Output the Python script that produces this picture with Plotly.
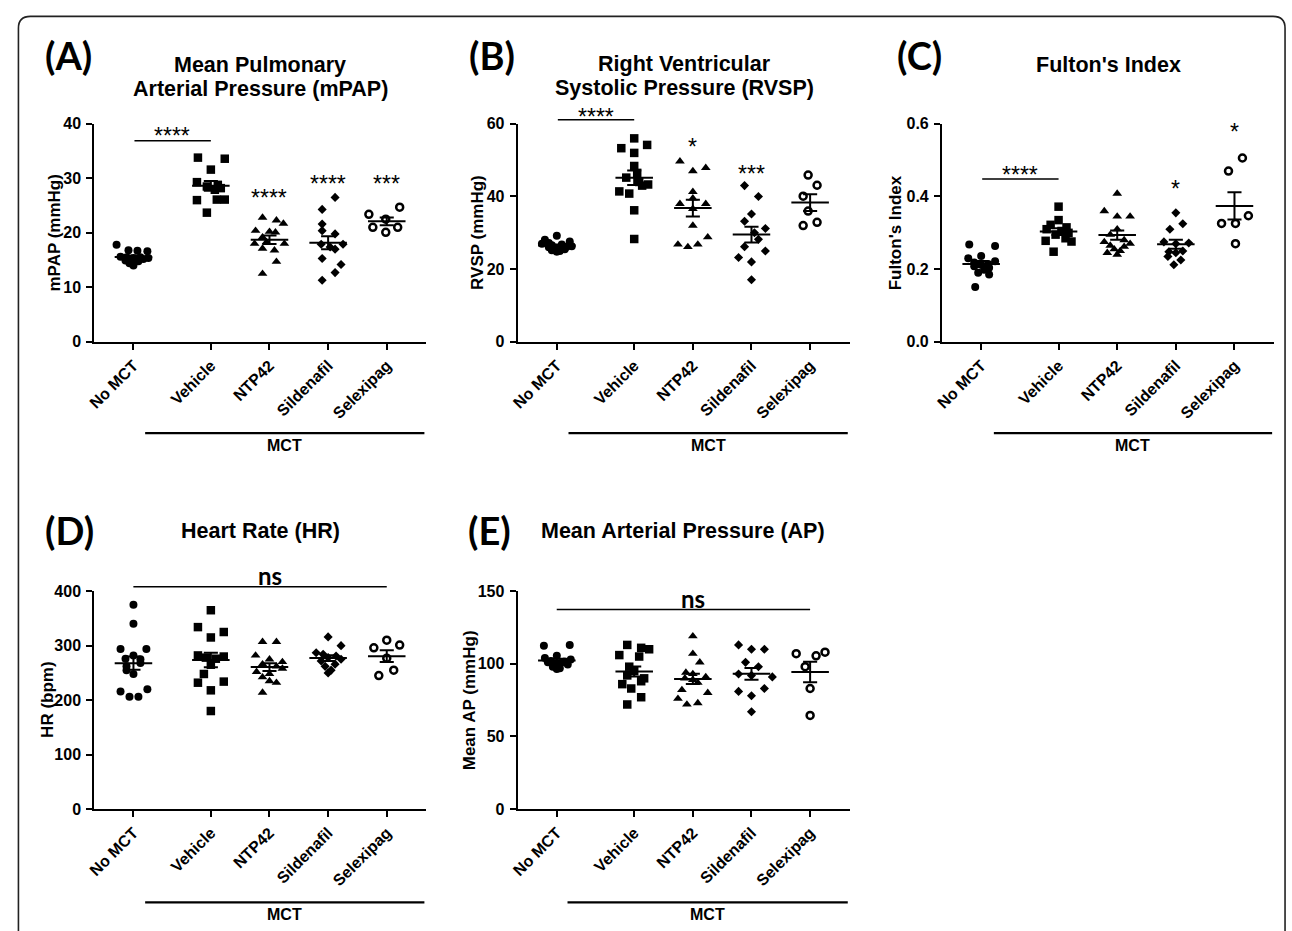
import numpy as np
import plotly.graph_objects as go

W, H = 1292, 931

categories = ["No MCT", "Vehicle", "NTP42", "Sildenafil", "Selexipag"]

# ---------------- data ----------------
# (A) mean pulmonary arterial pressure, mmHg
mpap_values = [
    [17.8, 16.8, 16.7, 16.6, 15.6, 15.5, 15.4, 15.5, 15.4, 14.9, 14.7, 14.8, 14.0, 14.4, 15.2],
    [33.8, 33.6, 31.6, 29.3, 28.8, 28.5, 27.9, 26.1, 26.0, 26.1, 23.7, 28.2],
    [22.8, 22.3, 21.7, 20.4, 20.2, 20.1, 19.2, 18.0, 18.3, 18.0, 17.1, 16.8, 14.7, 12.5],
    [26.5, 24.3, 21.6, 20.4, 19.8, 17.9, 17.9, 17.4, 17.0, 15.3, 14.2, 12.7, 11.3],
    [23.4, 22.5, 24.7, 21.0, 20.1, 21.0],
]
# (B) right ventricular systolic pressure, mmHg
rvsp_values = [
    [29.2, 28.1, 27.6, 27.0, 26.8, 26.6, 26.3, 26.0, 25.7, 25.5, 25.2, 25.0, 24.8, 26.2, 27.2],
    [56.0, 54.2, 53.3, 52.0, 48.4, 46.5, 45.2, 44.0, 43.3, 43.0, 41.4, 40.8, 36.2, 28.3],
    [49.7, 47.9, 47.0, 41.3, 39.5, 38.0, 38.0, 36.6, 32.0, 28.8, 26.8, 26.8, 26.1],
    [43.0, 40.0, 35.2, 33.2, 31.2, 30.0, 28.2, 26.2, 25.0, 23.2, 22.0, 17.1],
    [45.9, 43.1, 40.1, 36.0, 32.0, 32.9],
]
# (C) Fulton's index
fulton_values = [
    [0.268, 0.264, 0.236, 0.230, 0.222, 0.218, 0.214, 0.212, 0.208, 0.204, 0.198, 0.190, 0.185, 0.151],
    [0.372, 0.335, 0.322, 0.315, 0.310, 0.305, 0.300, 0.295, 0.285, 0.278, 0.276, 0.248],
    [0.408, 0.360, 0.345, 0.345, 0.310, 0.295, 0.280, 0.275, 0.270, 0.265, 0.262, 0.255, 0.250, 0.245, 0.240],
    [0.355, 0.325, 0.310, 0.275, 0.272, 0.270, 0.250, 0.248, 0.245, 0.235, 0.225, 0.212],
    [0.506, 0.470, 0.347, 0.326, 0.326, 0.270],
]
# (D) heart rate, bpm
hr_values = [
    [375, 340, 294, 294, 282, 276, 275, 268, 262, 255, 248, 220, 216, 206, 206],
    [365, 334, 325, 315, 282, 280, 278, 276, 265, 248, 232, 234, 218, 180],
    [307, 307, 282, 275, 270, 266, 262, 258, 252, 248, 242, 235, 232, 214],
    [316, 300, 287, 284, 281, 278, 275, 272, 266, 262, 255, 250],
    [310, 301, 296, 277, 255, 245],
]
# (E) mean arterial pressure, mmHg
ap_values = [
    [112.5, 113, 105.5, 104, 103, 102, 101.5, 101, 100.5, 100, 99.5, 99, 98, 97, 96.5],
    [113, 111, 110, 106, 105, 98, 95, 92, 90, 88, 86, 83, 77, 72],
    [119, 107, 101, 94, 93, 91, 90, 89, 87, 82, 80, 76, 73, 72],
    [113, 110, 110, 101, 98, 93, 92, 91, 83, 81, 78, 67],
    [107, 105.5, 108, 98, 83, 64.5],
]

# horizontal scatter of each dot (pixels)
mpap_spread = [
    [-17, -5, 4, 14, -13, -7, 0, 7, 15, -8, -2, 5, 0, -4, 10],
    [-13, 14, 0, -14, 7, -4, 4, 14, -14, 6, -4, 10],
    [-7, 7, 14, -14, 0, 6, -7, -15, -3, 15, -7, 5, 7, -7],
    [7, -6, -6, -6, 7, -7, 15, 2, 7, -6, 13, 7, -6],
    [-18, -1, 13, -14, -1, 11],
]
rvsp_spread = [
    [0, -12, 13, -15, 5, -5, 15, -8, -2, 8, -5, 3, 0, 10, -8],
    [0, 13, -13, 0, 0, 3, -8, 5, 14, 8, -15, -5, 0, 0],
    [-13, 13, 0, 0, 0, -13, 13, 0, 0, 15, -15, 5, -5],
    [-7, 7, 0, -7, 14, 3, 7, -7, 14, -13, 0, 0],
    [-2, 7, -7, -2, -7, 7],
]
fulton_spread = [
    [-12, 14, 0, -13, 14, -7, 7, 0, -7, 8, 3, -3, 8, -6],
    [0, 0, -8, 8, -12, 3, 10, -3, 7, -13, 13, -5],
    [0, -13, 0, 13, 0, -7, 7, -13, 13, -7, 7, -3, 3, -10, 0],
    [0, 7, -6, -12, 13, 0, 7, -7, 0, -8, 5, -2],
    [8, -6, 14, -13, 1, 1],
]
hr_spread = [
    [0, 0, -13, 13, 0, -8, 7, 7, -7, -7, 0, 14, -13, -4, 5],
    [0, -13, 13, 0, -13, 13, -5, 5, 0, -7, -13, 13, 0, 0],
    [-7, 7, -14, 0, 13, -7, 7, 13, -13, 0, -7, 0, 7, -7],
    [0, 13, -12, -5, 8, 0, 13, -7, 7, -3, 3, 0],
    [0, 13, -13, 0, 7, -8],
]
ap_spread = [
    [-13, 13, 0, -12, 14, -6, 8, -9, 4, -2, 11, 1, -4, 3, 0],
    [-7, 7, 15, -15, 5, -5, 0, -7, 10, 7, -12, -3, 7, -7],
    [0, 0, 7, -7, 0, 13, -8, 0, 5, -11, 15, -15, 5, -6],
    [-13, 0, 13, -6, 7, -13, 0, 21, 13, -13, 0, 0],
    [-14, 6, 15, -5, 0, 0],
]

# ---------------- layout helpers ----------------
cat_pos = [0, 1.32, 2.32, 3.32, 4.32]   # category slots (gap after No MCT)
PX_PER_UNIT = 59.0
X_RANGE = [-0.665, 4.996]

def px_x(px):
    return px / W

def px_y(py):
    return 1 - py / H

FONT = "Liberation Sans, Arial, sans-serif"
LETTER_FONT = "Lato, Open Sans, sans-serif"

marker_styles = [
    dict(symbol="circle", size=8, color="black", line=dict(width=0)),
    dict(symbol="square", size=8.5, color="black", line=dict(width=0)),
    dict(symbol="triangle-up", size=8.5, color="black", line=dict(width=0)),
    dict(symbol="diamond", size=7, color="black", line=dict(width=0)),
    dict(symbol="circle-open", size=7, color="black", line=dict(width=2.5, color="black")),
]

panels = [
    dict(letter="(A)", letter_xy=(61, 48),
         titles=[("Mean Pulmonary", 254, 58), ("Arterial Pressure (mPAP)", 254, 82)],
         ytitle="mPAP (mmHg)", ytitle_x=47, values=mpap_values, spread=mpap_spread,
         yticks=[0, 10, 20, 30, 40], yticktext=None, ytop=40,
         box=(87, 118, 421, 340),
         bars=[(0, 1, 36.9, "****", 38.6)],
         stars=[(2, "****", 27.3), (3, "****", 29.9), (4, "***", 29.9)],
         mct=(138, 419, 433, 446)),
    dict(letter="(B)", letter_xy=(487, 48),
         titles=[("Right Ventricular", 681, 57), ("Systolic Pressure (RVSP)", 681, 81)],
         ytitle="RVSP (mmHg)", ytitle_x=473, values=rvsp_values, spread=rvsp_spread,
         yticks=[0, 20, 40, 60], yticktext=None, ytop=60,
         box=(513, 118, 847, 340),
         bars=[(0, 1, 61.1, "****", 63.2)],
         stars=[(2, "*", 55.1), (3, "***", 47.5)],
         mct=(564, 845, 433, 446)),
    dict(letter="(C)", letter_xy=(917, 48),
         titles=[("Fulton's Index", 1107, 58)],
         ytitle="Fulton's Index", ytitle_x=893, values=fulton_values, spread=fulton_spread,
         yticks=[0, 0.2, 0.4, 0.6], yticktext=["0.0", "0.2", "0.4", "0.6"], ytop=0.6,
         box=(940, 118, 1274, 340),
         bars=[(0, 1, 0.448, "****", 0.473)],
         stars=[(3, "*", 0.435), (4, "*", 0.592)],
         mct=(992, 1272, 433, 446)),
    dict(letter="(D)", letter_xy=(62, 532),
         titles=[("Heart Rate (HR)", 254, 533)],
         ytitle="HR (bpm)", ytitle_x=39, values=hr_values, spread=hr_spread,
         yticks=[0, 100, 200, 300, 400], yticktext=None, ytop=400,
         box=(87, 594, 421, 816),
         bars=[(0, 4, 408, "ns", 428)],
         stars=[],
         mct=(138, 419, 911, 923)),
    dict(letter="(E)", letter_xy=(484, 532),
         titles=[("Mean Arterial Pressure (AP)", 679, 533)],
         ytitle="Mean AP (mmHg)", ytitle_x=464, values=ap_values, spread=ap_spread,
         yticks=[0, 50, 100, 150], yticktext=None, ytop=150,
         box=(513, 594, 847, 816),
         bars=[(0, 4, 137.4, "ns", 144.8)],
         stars=[],
         mct=(563, 845, 911, 923)),
]

fig = go.Figure()
annotations = []
shapes = []
layout_axes = {}

for k, p in enumerate(panels):
    n = k + 1
    xa = "x" if n == 1 else f"x{n}"
    ya = "y" if n == 1 else f"y{n}"
    yd = f"{ya} domain"
    xl, yt, xr, yb = p["box"]
    ytop = p["ytop"]

    layout_axes["xaxis" if n == 1 else f"xaxis{n}"] = dict(
        domain=[px_x(xl), px_x(xr)], range=X_RANGE, anchor=ya,
        tickmode="array", tickvals=cat_pos, ticktext=categories, tickangle=-45,
        ticks="outside", ticklen=6, tickwidth=2, tickcolor="black",
        showline=True, linewidth=2.2, linecolor="black",
        showgrid=False, zeroline=False, fixedrange=True,
        tickfont=dict(family=FONT, size=16, color="black", weight="bold"),
    )
    layout_axes["yaxis" if n == 1 else f"yaxis{n}"] = dict(
        domain=[px_y(yb), px_y(yt)], range=[0, ytop], anchor=xa,
        tickmode="array", tickvals=p["yticks"],
        ticktext=p["yticktext"] if p["yticktext"] else [str(v) for v in p["yticks"]],
        ticks="outside", ticklen=6, tickwidth=2, tickcolor="black",
        ticklabelstandoff=2,
        showline=True, linewidth=2.2, linecolor="black",
        showgrid=False, zeroline=False, fixedrange=True,
        tickfont=dict(family=FONT, size=16, color="black", weight="bold"),
    )

    # dots
    for g, (vals, spr) in enumerate(zip(p["values"], p["spread"])):
        xs = cat_pos[g] + np.array(spr, dtype=float) / PX_PER_UNIT
        fig.add_trace(go.Scatter(
            x=xs, y=vals, mode="markers", xaxis=xa, yaxis=ya,
            marker=marker_styles[g], showlegend=False, hoverinfo="skip",
            cliponaxis=False,
        ))
    # mean +/- SEM
    lx, ly = [], []
    for g, vals in enumerate(p["values"]):
        v = np.array(vals, dtype=float)
        m = v.mean()
        se = v.std(ddof=1) / np.sqrt(len(v))
        c = cat_pos[g]
        lx += [c - 0.32, c + 0.32, None, c, c, None,
               c - 0.12, c + 0.12, None, c - 0.12, c + 0.12, None]
        ly += [m, m, None, m - se, m + se, None,
               m + se, m + se, None, m - se, m - se, None]
    fig.add_trace(go.Scatter(
        x=lx, y=ly, mode="lines", xaxis=xa, yaxis=ya,
        line=dict(color="black", width=2), showlegend=False, hoverinfo="skip",
    ))

    # significance bars: y given as a fraction of the (linear, zero-based)
    # axis so that marks above the top tick are still drawn
    for (i, j, by, txt, ty) in p["bars"]:
        annotations.append(dict(
            x=cat_pos[j], y=by / ytop, xref=xa, yref=yd,
            ax=-(cat_pos[j] - cat_pos[i]) * PX_PER_UNIT, ay=0,
            axref="pixel", ayref="pixel",
            showarrow=True, arrowhead=0, arrowwidth=1.5,
            arrowcolor="black", text="", standoff=0, startstandoff=0,
        ))
        is_ns = txt == "ns"
        annotations.append(dict(
            x=(cat_pos[i] + cat_pos[j]) / 2, y=ty / ytop, xref=xa, yref=yd,
            text=txt, showarrow=False, xanchor="center", yanchor="middle",
            yshift=0 if is_ns else -5, xshift=10 if is_ns else 0,
            font=dict(family=LETTER_FONT if is_ns else FONT,
                      size=24 if is_ns else 23, color="black",
                      weight="bold" if is_ns else "normal"),
        ))
    for (g, txt, ty) in p["stars"]:
        annotations.append(dict(
            x=cat_pos[g], y=ty / ytop, xref=xa, yref=yd, text=txt, showarrow=False,
            xanchor="center", yanchor="middle", yshift=-5,
            font=dict(family=FONT, size=23, color="black"),
        ))

    # panel letter and titles
    lx0, ly0 = p["letter_xy"]
    annotations.append(dict(
        x=px_x(lx0), y=px_y(ly0), xref="paper", yref="paper", text=p["letter"],
        showarrow=False, xanchor="center", yanchor="middle",
        font=dict(family=LETTER_FONT, size=38, color="black", weight="bold"),
    ))
    for (t, tx, ty) in p["titles"]:
        annotations.append(dict(
            x=px_x(tx), y=px_y(ty), xref="paper", yref="paper", text=t,
            showarrow=False, xanchor="center", yanchor="middle",
            font=dict(family=FONT, size=21.5, color="black", weight="bold"),
        ))
    # y-axis title
    annotations.append(dict(
        x=px_x(p["ytitle_x"]), y=px_y((yt + yb) / 2), xref="paper", yref="paper",
        text=p["ytitle"], textangle=-90, showarrow=False,
        xanchor="center", yanchor="middle",
        font=dict(family=FONT, size=17, color="black", weight="bold"),
    ))
    # MCT bracket
    mx0, mx1, my, mty = p["mct"]
    shapes.append(dict(type="line", xref="paper", yref="paper",
                       x0=px_x(mx0), x1=px_x(mx1), y0=px_y(my), y1=px_y(my),
                       line=dict(color="black", width=2.2)))
    annotations.append(dict(
        x=px_x((mx0 + mx1) / 2), y=px_y(mty), xref="paper", yref="paper",
        text="MCT", showarrow=False, xanchor="center", yanchor="middle",
        font=dict(family=FONT, size=16, color="black", weight="bold"),
    ))

# rounded outer frame
r = 12
L, T, R, B = 10.5, 8.5, 1285, 990
path = (f"M {px_x(L)},{px_y(B)} L {px_x(L)},{px_y(T + r)} "
        f"Q {px_x(L)},{px_y(T)} {px_x(L + r)},{px_y(T)} "
        f"L {px_x(R - r)},{px_y(T)} Q {px_x(R)},{px_y(T)} {px_x(R)},{px_y(T + r)} "
        f"L {px_x(R)},{px_y(B)}")
shapes.append(dict(type="path", xref="paper", yref="paper", path=path,
                   line=dict(color="#222222", width=1.6),
                   fillcolor="rgba(0,0,0,0)"))

fig.update_layout(
    width=W, height=H,
    margin=dict(l=0, r=0, t=0, b=0),
    paper_bgcolor="white", plot_bgcolor="white",
    showlegend=False, hovermode=False,
    annotations=annotations, shapes=shapes,
    **layout_axes,
)

fig.write_html(
    "out.html",
    config={"displayModeBar": False, "staticPlot": True},
    post_script=("document.body.style.margin='0px';"
                 "document.body.style.padding='0px';"
                 "document.body.style.overflow='hidden';"
                 "document.documentElement.style.overflow='hidden';"),
)
